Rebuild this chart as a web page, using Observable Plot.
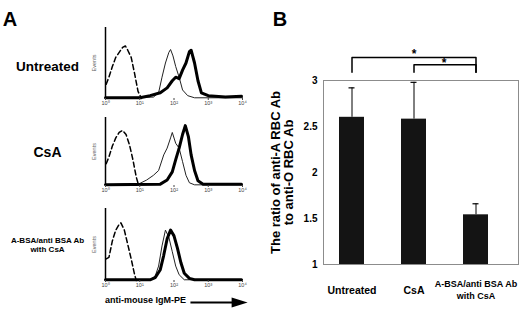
<!DOCTYPE html>
<html><head><meta charset="utf-8">
<script src="https://cdn.jsdelivr.net/npm/d3@7"></script>
<script src="https://cdn.jsdelivr.net/npm/@observablehq/plot@0.6"></script>
<style>
body{margin:0;background:#fff;}
#fig{position:relative;width:520px;height:309px;background:#fff;overflow:hidden;font-family:"Liberation Sans",Arial,sans-serif;}
.cell{position:absolute;}
</style></head><body><div id="fig"></div>
<script>
// ---------- Panel A data (log10 fluorescence, relative events) ----------
const decades = [0, 1, 2, 3, 4];
const decadeLabels = ["10\u2070", "10\u00b9", "10\u00b2", "10\u00b3", "10\u2074"];
const panelLabels = ["Untreated", "CsA", "A-BSA/anti BSA Ab\nwith CsA"];
const axisTitleA = "anti-mouse IgM-PE";

const untreatedIso = [[0.02,0.2],[0.1,0.3],[0.2,0.45],[0.3,0.58],[0.4,0.65],[0.5,0.72],[0.58,0.74],[0.65,0.68],[0.75,0.58],[0.85,0.35],[0.95,0.1],[1.05,0]];
const untreatedThin = [[0,0.01],[1.4,0.02],[1.55,0.08],[1.65,0.3],[1.75,0.5],[1.85,0.65],[1.9,0.69],[1.97,0.6],[2.05,0.45],[2.15,0.3],[2.25,0.12],[2.4,0.04],[2.6,0.01],[4,0.01]];
const untreatedThick = [[0,0.01],[1,0.01],[1.3,0.04],[1.6,0.08],[1.8,0.15],[1.95,0.25],[2.05,0.3],[2.15,0.28],[2.25,0.4],[2.35,0.5],[2.45,0.66],[2.5,0.68],[2.6,0.5],[2.7,0.25],[2.8,0.08],[3.0,0.04],[3.5,0.02],[3.97,0.03]];

const csaIso = [[0.02,0.32],[0.1,0.42],[0.2,0.58],[0.3,0.7],[0.4,0.78],[0.5,0.81],[0.6,0.75],[0.7,0.6],[0.8,0.38],[0.9,0.12],[0.97,0]];
const csaThin = [[0,0.01],[1.0,0.03],[1.2,0.08],[1.4,0.15],[1.55,0.22],[1.7,0.45],[1.8,0.55],[1.9,0.7],[1.95,0.78],[2.05,0.62],[2.15,0.55],[2.25,0.35],[2.35,0.15],[2.45,0.04],[2.6,0.01],[4,0.01]];
const csaThick = [[0,0.01],[1.6,0.02],[1.8,0.08],[1.95,0.2],[2.05,0.38],[2.15,0.55],[2.25,0.75],[2.33,0.88],[2.42,0.72],[2.5,0.45],[2.6,0.22],[2.7,0.07],[2.85,0.02],[3.97,0.02]];

const bsaIso = [[0.02,0.3],[0.1,0.32],[0.2,0.55],[0.3,0.7],[0.4,0.78],[0.45,0.8],[0.55,0.7],[0.65,0.5],[0.75,0.3],[0.85,0.08],[0.9,0]];
const bsaThin = [[0,0.01],[1.3,0.01],[1.45,0.06],[1.55,0.2],[1.65,0.48],[1.75,0.7],[1.85,0.6],[1.95,0.4],[2.05,0.2],[2.15,0.08],[2.3,0.01],[4,0.01]];
const bsaThick = [[0,0.01],[1.3,0.01],[1.45,0.04],[1.6,0.15],[1.7,0.35],[1.8,0.58],[1.9,0.7],[2.0,0.62],[2.1,0.45],[2.2,0.25],[2.3,0.1],[2.45,0.03],[2.6,0.01],[3.97,0.01]];

// ---------- Panel B data ----------
const groups = ["Untreated", "CsA", "A-BSA/anti BSA Ab\nwith CsA"];
const ratioMean = [2.6, 2.58, 1.54];
const ratioErr = [0.32, 0.40, 0.12];
const yTicks = [1, 1.5, 2, 2.5, 3];
const yTitle = "The ratio of anti-A RBC Ab\nto anti-O RBC Ab";
const sigOuter = [[groups[0],3.09],[groups[0],3.25],[groups[2],3.25],[groups[2],3.09]];
const sigInner = [[groups[1],3.09],[groups[1],3.17],[groups[2],3.17],[groups[2],3.09]];

const fig = document.getElementById("fig");
const FONT = "Liberation Sans, Arial, sans-serif";
function place(el, left, top, w) {
  const d = document.createElement("div");
  d.className = "cell"; d.style.left = left + "px"; d.style.top = top + "px"; d.style.width = w + "px";
  d.appendChild(el); fig.appendChild(d);
}

const arrowHead = { draw(ctx, size) { ctx.moveTo(-16, -5); ctx.lineTo(0, 0); ctx.lineTo(-16, 5); ctx.closePath(); } };

function histPanel(o) {
  const P = (arr, opts) => Plot.line(arr, {x: d => d[0], y: d => d[1], curve: "linear", ...opts});
  const marks = [
    Plot.ruleX([0], {y1: 0, y2: 1, stroke: "black", strokeWidth: 1.5}),
    P(o.iso, {stroke: "black", strokeWidth: 1.5, strokeDasharray: "5,3"}),
    P(o.thin, {stroke: "#222", strokeWidth: 1}),
    P(o.thick, {stroke: "black", strokeWidth: 3}),
    Plot.axisX({ticks: decades, tickFormat: d => decadeLabels[d], tickSize: 2, tickPadding: 1, fontSize: 5.5, fill: "#444", stroke: "#444"}),
    Plot.text([o.label], {frameAnchor: "left", dx: -58, dy: o.labelDy, textAnchor: "middle", fontWeight: "bold", fontSize: o.labelSize, lineHeight: o.lineHeight || 1}),
    Plot.text(["Events"], {frameAnchor: "left", dx: -11, rotate: -90, textAnchor: "middle", fontSize: 5.5, fill: "#666"})
  ];
  if (o.extra) marks.push(...o.extra);
  return Plot.plot({
    width: 260, height: o.height, marginLeft: 105, marginRight: 18, marginTop: o.mt, marginBottom: o.mb,
    style: {fontFamily: FONT, background: "transparent", overflow: "visible"},
    x: {domain: [0, 4], axis: null},
    y: {domain: [0, 1], axis: null},
    marks
  });
}

place(histPanel({height: 110, mt: 27, mb: 12, label: panelLabels[0], labelSize: 13.5, labelDy: 4,
  iso: untreatedIso, thin: untreatedThin, thick: untreatedThick,
  extra: [Plot.text(["A"], {frameAnchor: "top-left", dx: -95.5, dy: -15.5, fontSize: 20, fontWeight: "bold", textAnchor: "middle"})]
}), 0, 0, 260);

place(histPanel({height: 90, mt: 7, mb: 15, label: panelLabels[1], labelSize: 14, labelDy: 1,
  iso: csaIso, thin: csaThin, thick: csaThick}), 0, 110, 260);

place(histPanel({height: 109, mt: 8, mb: 29, label: panelLabels[2], labelSize: 8, labelDy: 0, lineHeight: 1.15,
  iso: bsaIso, thin: bsaThin, thick: bsaThick,
  extra: [
    Plot.text([axisTitleA], {frameAnchor: "bottom-left", dx: 40, dy: 22, fontSize: 9, fontWeight: "bold", textAnchor: "middle"}),
    Plot.link([{a: 2.48, b: 4.0, y: -0.306}], {x1: "a", x2: "b", y1: "y", y2: "y", stroke: "black", strokeWidth: 2}),
    Plot.dot([{x: 4.15, y: -0.306}], {x: "x", y: "y", symbol: arrowHead, fill: "black", stroke: "none", r: 5})
  ]}), 0, 200, 260);

// ---------- Panel B ----------
const bars = groups.map((g, i) => ({g, m: ratioMean[i], hi: ratioMean[i] + ratioErr[i], size: i === 2 ? 9 : 10.5}));
const toObj = arr => arr.map(([g, v]) => ({g, v}));
const pB = Plot.plot({
  width: 260, height: 309, marginLeft: 63, marginRight: 2, marginTop: 80, marginBottom: 45,
  style: {fontFamily: FONT, background: "transparent", overflow: "visible"},
  x: {domain: groups, range: [60, 247.5], paddingInner: 0.6, paddingOuter: 0.3, axis: null},
  y: {domain: [1, 3], axis: null},
  marks: [
    Plot.frame({stroke: "#8c8c8c"}),
    Plot.ruleX(bars, {x: "g", y1: "m", y2: "hi", stroke: "black", strokeWidth: 1}),
    Plot.tickY(bars, {x: "g", y: "hi", stroke: "black", strokeWidth: 1.2, insetLeft: 9.5, insetRight: 9.5}),
    Plot.barY(bars, {x: "g", y1: 1, y2: "m", fill: "#141414"}),
    Plot.axisY({ticks: yTicks, tickSize: 0, tickPadding: 6, fontSize: 10, fontWeight: "bold", tickFormat: d => String(d)}),
    Plot.text(bars, {x: "g", text: "g", frameAnchor: "bottom", dy: 24.5, fontSize: "size", fontWeight: "bold", lineAnchor: "middle", lineHeight: 1.35}),
    Plot.text([yTitle], {frameAnchor: "left", dx: -41.5, rotate: -90, textAnchor: "middle", fontSize: 13, fontWeight: "bold", lineHeight: 1.0}),
    Plot.line(toObj(sigOuter), {x: "g", y: "v", stroke: "black", strokeWidth: 1.5}),
    Plot.line(toObj(sigInner), {x: "g", y: "v", stroke: "black", strokeWidth: 1.5}),
    Plot.text([{g: groups[1], v: 3.29}], {x: "g", y: "v", text: () => "*", fontSize: 12, fontWeight: "bold"}),
    Plot.text([{g: groups[1], v: 3.185}], {x: "g", y: "v", text: () => "*", dx: 30, fontSize: 12, fontWeight: "bold"}),
    Plot.text(["B"], {frameAnchor: "top-left", dx: -43.5, dy: -68.5, fontSize: 20, fontWeight: "bold", textAnchor: "middle"})
  ]
});
place(pB, 260, 0, 260);
</script></body></html>
